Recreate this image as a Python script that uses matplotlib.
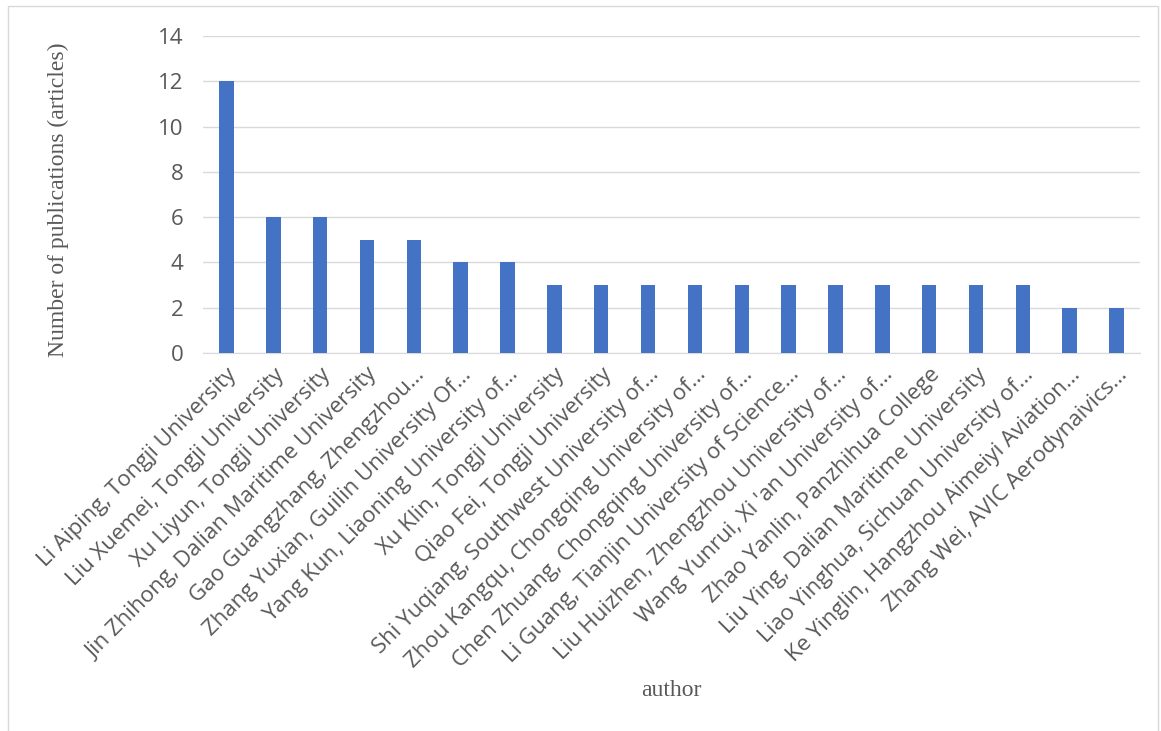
import matplotlib
matplotlib.use("Agg")
import matplotlib.pyplot as plt
from matplotlib.patches import Rectangle

BAR_COLOR = "#4472C4"
GRID_COLOR = "#D9D9D9"
TEXT_COLOR = "#595959"

authors = [
    "Li Aiping, Tongji University",
    "Liu Xuemei, Tongji University",
    "Xu Liyun, Tongji University",
    "Jin Zhihong, Dalian Maritime University",
    "Gao Guangzhang, Zhengzhou\u2026",
    "Zhang Yuxian, Guilin University Of\u2026",
    "Yang Kun, Liaoning University of\u2026",
    "Xu Klin, Tongji University",
    "Qiao Fei, Tongji University",
    "Shi Yuqiang, Southwest University of\u2026",
    "Zhou Kangqu, Chongqing University of\u2026",
    "Chen Zhuang, Chongqing University of\u2026",
    "Li Guang, Tianjin University of Science\u2026",
    "Liu Huizhen, Zhengzhou University of\u2026",
    "Wang Yunrui, Xi 'an University of\u2026",
    "Zhao Yanlin, Panzhihua College",
    "Liu Ying, Dalian Maritime University",
    "Liao Yinghua, Sichuan University of\u2026",
    "Ke Yinglin, Hangzhou Aimeiyi Aviation\u2026",
    "Zhang Wei, AVIC Aerodynaivics\u2026",
]
articles = [12, 6, 6, 5, 5, 4, 4, 3, 3, 3, 3, 3, 3, 3, 3, 3, 3, 3, 2, 2]

y_ticks = [0, 2, 4, 6, 8, 10, 12, 14]


def draw_chart():
    fig = plt.figure(figsize=(11.61, 7.31), dpi=100)
    ax = fig.add_axes([203 / 1161, 1 - 353 / 731, 937 / 1161, 317 / 731])

    x = list(range(len(authors)))
    ax.bar(x, articles, width=0.31, color=BAR_COLOR, zorder=3)

    ax.set_xlim(-0.5, len(authors) - 0.5)
    ax.set_ylim(0, 14)
    ax.set_yticks(y_ticks)
    ax.yaxis.grid(True, color=GRID_COLOR, linewidth=1, zorder=0)

    for side in ["top", "right", "left"]:
        ax.spines[side].set_visible(False)
    ax.spines["bottom"].set_color(GRID_COLOR)

    ax.tick_params(axis="y", length=0, pad=14, labelsize=16, labelcolor=TEXT_COLOR)
    ax.tick_params(axis="x", length=0, pad=8, labelsize=16, labelcolor=TEXT_COLOR)
    for lbl in ax.get_yticklabels():
        lbl.set_family("Open Sans")
    ax.set_xticks(x)
    ax.set_xticklabels(authors, rotation=45, ha="right", rotation_mode="anchor",
                       family="Open Sans")

    fig.text(58 / 1161, 1 - 200 / 731, "Number of publications (articles)",
             family="Liberation Serif", fontsize=17, color=TEXT_COLOR,
             rotation=90, ha="center", va="center")
    fig.text(671 / 1161, 1 - 690 / 731, "author", family="Liberation Serif",
             fontsize=17, color=TEXT_COLOR, ha="center", va="center")

    # thin frame round the whole chart
    fig.patches.append(Rectangle((8 / 1161, -2 / 731), 1150 / 1161, 727 / 731,
                                 transform=fig.transFigure, fill=False,
                                 edgecolor=GRID_COLOR, linewidth=1))

    fig.savefig("out.png", dpi=100)


if __name__ == '__main__':
    draw_chart()
